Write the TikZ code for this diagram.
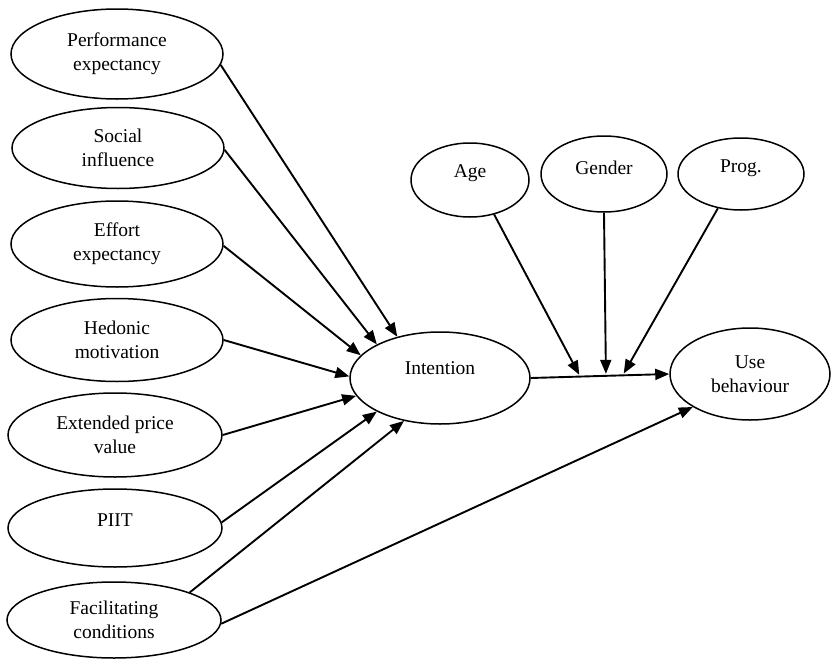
\documentclass[tikz,border=0pt]{standalone}
\usepackage{fontspec}
\setmainfont{Liberation Serif}
\newfontfamily\tnr{Liberation Serif}
\usetikzlibrary{shapes.geometric,arrows.meta}
\begin{document}
\begin{tikzpicture}[x=1pt,y=-1pt,
  txt/.style={font=\tnr\fontsize{19.5}{24}\selectfont, align=center},
  ell/.style={draw, ellipse, inner sep=0pt, line width=1.5pt, txt},
  arr/.style={line width=1.9pt, -{Triangle[length=14pt,width=11pt]}}]
\useasboundingbox (0,0) rectangle (831,659);
% left constructs
\node[ell, minimum width=212pt, minimum height=90pt] (pe) at (117,54) {Performance\\expectancy};
\node[ell, minimum width=212pt, minimum height=81pt] (si) at (118,148) {Social\\influence};
\node[ell, minimum width=212pt, minimum height=86pt] (ee) at (117,244) {Effort\\expectancy};
\node[ell, minimum width=212pt, minimum height=83pt] (hm) at (117,340) {Hedonic\\motivation};
\node[ell, minimum width=214pt, minimum height=84pt] (ep) at (115,435) {Extended price\\value};
\node[ell, minimum width=214pt, minimum height=78pt, label={[txt,yshift=8pt]center:PIIT}] (pi) at (115,528) {};
\node[ell, minimum width=214pt, minimum height=76pt] (fc) at (114,620) {Facilitating\\conditions};
% centre and right
\node[ell, minimum width=180pt, minimum height=92pt, label={[txt,yshift=10pt]center:Intention}] (int) at (440,378) {};
\node[ell, minimum width=160pt, minimum height=92pt] (ub) at (750,374) {Use\\behaviour};
\node[ell, minimum width=118pt, minimum height=74pt, label={[txt,yshift=7pt]center:Age}] (age) at (470,180) {};
\node[ell, minimum width=126pt, minimum height=76pt, label={[txt,yshift=6pt]center:Gender}] (gen) at (604,174) {};
\node[ell, minimum width=126pt, minimum height=72pt, label={[txt,yshift=6pt]center:Prog.}] (prog) at (741,174) {};
% arrows into intention
\draw[arr] (pe.-6) -- (int.136);
\draw[arr] (si.-1) -- (int.152);
\draw[arr] (ee.-1) -- (int.164);
\draw[arr] (hm.0) -- (int.179);
\draw[arr] (ep.0) -- (int.192);
\draw[arr] (pi.3) -- (int.208);
\draw[arr] (fc.20) -- (int.230);
\draw[arr] (fc.-2) -- (ub.210);
% intention to use behaviour, with moderators
\draw[arr] (int.east) -- (ub.west)
  coordinate[pos=0.357] (m1)
  coordinate[pos=0.543] (m2)
  coordinate[pos=0.664] (m3);
\draw[arr, shorten >=2pt] (age.-55) -- (m1);
\draw[arr, shorten >=2pt] (gen.south) -- (m2);
\draw[arr, shorten >=2pt] (prog.236) -- (m3);
\end{tikzpicture}
\end{document}
